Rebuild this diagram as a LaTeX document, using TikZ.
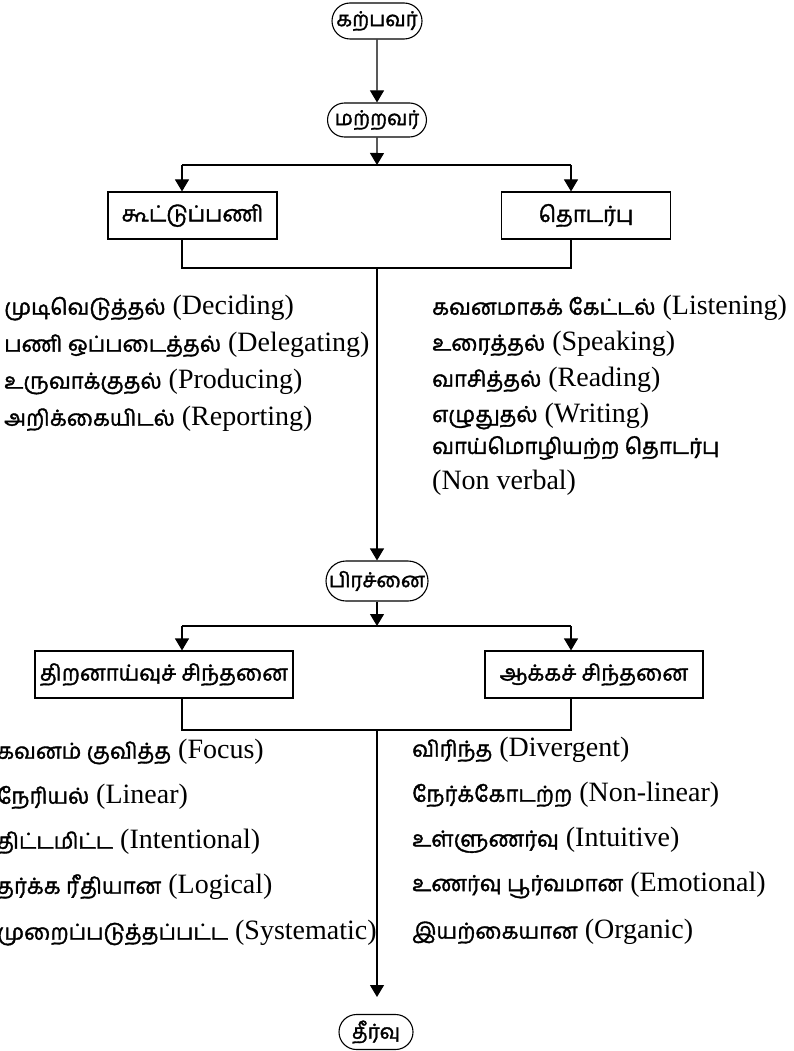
\documentclass[tikz,border=0pt]{standalone}
\usepackage{fontspec}
\setmainfont{Liberation Serif}
\newfontfamily\tamilfont[Script=Tamil,FakeBold=1.6]{Hind Madurai}
\usetikzlibrary{arrows.meta,shapes.misc}
\newcommand\tml[1]{{\tamilfont\fontsize{22}{26}\selectfont #1}}
\tikzset{
  pill/.style={draw, rounded rectangle, line width=1.1pt, minimum height=36pt, inner xsep=4pt, font=\tamilfont\fontsize{20.5}{24}\selectfont},
  stepbox/.style={draw, rectangle, line width=1.1pt, minimum height=47pt, font=\tamilfont\fontsize{22}{26}\selectfont},
  item/.style={anchor=west, inner sep=0pt, font=\fontsize{28}{33}\selectfont},
  conn/.style={line width=1.1pt},
  arr/.style={line width=1.1pt, -{Triangle[length=12pt,width=14pt]}},
}
\begin{document}
\begin{tikzpicture}[x=1pt,y=-1pt]
\useasboundingbox (0,0) rectangle (794,1051);
% top chain
\node[pill, minimum width=98pt] (n1) at (377,21) {கற்பவர்};
\node[pill, minimum width=98pt, minimum height=34pt] (n2) at (377,120) {மற்றவர்};
\draw[arr] (n1) -- (n2);
\coordinate (j1) at (377,165);
\coordinate (l1) at (182,165);
\coordinate (r1) at (571,165);
\draw[arr] (n2) -- (j1);
\draw[conn] (l1) -- (r1);
\node[stepbox, minimum width=169pt] (b1) at (192.5,215.5) {கூட்டுப்பணி};
\node[stepbox, minimum width=169pt] (b2) at (586,215.5) {தொடர்பு};
\draw[arr] (l1) -- (l1 |- b1.north);
\draw[arr] (r1) -- (r1 |- b2.north);
\coordinate (m1) at (377,268);
\draw[conn] (l1 |- b1.south) -- (182,268) -- (571,268) -- (r1 |- b2.south);
% lists upper
\node[item] (a1) at (4,308) {\tml{முடிவெடுத்தல்} (Deciding)};
\node[item] (a2) at (4,345) {\tml{பணி ஒப்படைத்தல்} (Delegating)};
\node[item] (a3) at (4,382) {\tml{உருவாக்குதல்} (Producing)};
\node[item] (a4) at (4,419) {\tml{அறிக்கையிடல்} (Reporting)};
\node[item] (c1) at (432,308) {\tml{கவனமாகக் கேட்டல்} (Listening)};
\node[item] (c2) at (432,344) {\tml{உரைத்தல்} (Speaking)};
\node[item] (c3) at (432,380) {\tml{வாசித்தல்} (Reading)};
\node[item] (c4) at (432,416) {\tml{எழுதுதல்} (Writing)};
\node[item] (c5) at (432,448) {\tml{வாய்மொழியற்ற தொடர்பு}};
\node[item] (c6) at (432,483) {(Non verbal)};
% middle
\node[pill, minimum width=110pt, minimum height=40pt] (n3) at (377,581) {பிரச்னை};
\draw[arr] (m1) -- (n3);
\coordinate (j2) at (377,626);
\coordinate (l2) at (182,626);
\coordinate (r2) at (571,626);
\draw[arr] (n3) -- (j2);
\draw[conn] (l2) -- (r2);
\node[stepbox, minimum width=258pt] (b3) at (164,674.5) {திறனாய்வுச் சிந்தனை};
\node[stepbox, minimum width=218pt] (b4) at (594,674.5) {ஆக்கச் சிந்தனை};
\draw[arr] (l2) -- (l2 |- b3.north);
\draw[arr] (r2) -- (r2 |- b4.north);
\coordinate (m2) at (377,730);
\draw[conn] (l2 |- b3.south) -- (182,730) -- (571,730) -- (r2 |- b4.south);
% lists lower
\node[item] (d1) at (-3,752) {\tml{கவனம் குவித்த} (Focus)};
\node[item] (d2) at (-3,797) {\tml{நேரியல்} (Linear)};
\node[item] (d3) at (-3,842) {\tml{திட்டமிட்ட} (Intentional)};
\node[item] (d4) at (-3,887) {\tml{தர்க்க ரீதியான} (Logical)};
\node[item] (d5) at (-3,933) {\tml{முறைப்படுத்தப்பட்ட} (Systematic)};
\node[item] (e1) at (412,750) {\tml{விரிந்த} (Divergent)};
\node[item] (e2) at (412,795) {\tml{நேர்க்கோடற்ற} (Non-linear)};
\node[item] (e3) at (412,840) {\tml{உள்ளுணர்வு} (Intuitive)};
\node[item] (e4) at (412,885) {\tml{உணர்வு பூர்வமான} (Emotional)};
\node[item] (e5) at (412,932) {\tml{இயற்கையான} (Organic)};
% bottom
\node[pill, minimum width=82pt, minimum height=35pt] (n4) at (376,1032) {தீர்வு};
\coordinate (t4) at (377,997);
\draw[arr] (m2) -- (t4);
\end{tikzpicture}
\end{document}
